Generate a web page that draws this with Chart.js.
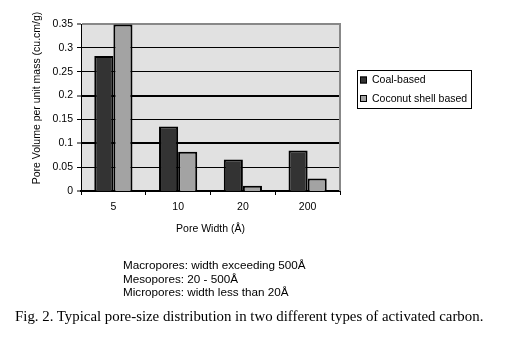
<!DOCTYPE html>
<html>
<head>
<meta charset="utf-8">
<script src="https://cdn.jsdelivr.net/npm/chart.js@4/dist/chart.umd.min.js"></script>
<style>
  body { margin: 0; background: #fff; }
  #wrap { position: relative; width: 526px; height: 341px; }
  .note { position: absolute; left: 123px; top: 258px; font: 11.7px "Liberation Sans", Arial, sans-serif; line-height: 13.5px; color: #000; }
  .caption { position: absolute; left: 15px; top: 308px; font: 14.85px "Liberation Serif", "Times New Roman", serif; color: #000; white-space: nowrap; }
</style>
</head>
<body>
<div id="wrap">
  <canvas id="pores" width="526" height="341"></canvas>
  <div class="note">Macropores: width exceeding 500Å<br>Mesopores: 20 - 500Å<br>Micropores: width less than 20Å</div>
  <div class="caption">Fig. 2. Typical pore-size distribution in two different types of activated carbon.</div>
</div>
<script>
// pore width categories (Å)
var poreWidths = ["5", "10", "20", "200"];
// pore volume per unit mass (cu.cm/g)
var coalBased = [0.283, 0.135, 0.066, 0.085];
var coconutBased = [0.349, 0.082, 0.011, 0.026];

var yTitle = 'Pore Volume per unit mass (cu.cm/g)';
var font10 = { family: "'Liberation Sans', Arial, sans-serif", size: 10.5 };

// plot background + gray right border, like the old spreadsheet look
var plotFrame = {
  id: 'plotFrame',
  beforeDraw: function (chart) {
    var a = chart.chartArea, c = chart.ctx;
    c.save();
    c.fillStyle = '#e1e1e1';
    c.fillRect(a.left, a.top, a.right - a.left, a.bottom - a.top);
    c.restore();
  },
  beforeDatasetsDraw: function (chart) {
    var a = chart.chartArea, c = chart.ctx;
    c.save();
    c.strokeStyle = '#888';
    c.lineWidth = 2;
    c.beginPath();
    c.moveTo(a.right, a.top - 1);
    c.lineTo(a.right, a.bottom);
    c.stroke();
    c.restore();
  },
  // y title sits a bit above the plot centre in the original
  afterDraw: function (chart) {
    var c = chart.ctx;
    c.save();
    c.translate(37.5, 98);
    c.rotate(-Math.PI / 2);
    c.font = "10.5px 'Liberation Sans', Arial, sans-serif";
    c.fillStyle = '#000';
    c.textAlign = 'center';
    c.textBaseline = 'middle';
    c.fillText(yTitle, 0, 0);
    c.restore();
  }
};

// boxed legend to the right of the plot
var boxLegend = {
  id: 'boxLegend',
  afterDraw: function (chart) {
    var c = chart.ctx;
    var x = 357, y = 70, w = 114, h = 38;
    c.save();
    c.fillStyle = '#fff';
    c.fillRect(x, y, w, h);
    c.strokeStyle = '#000';
    c.lineWidth = 1;
    c.strokeRect(x + 0.5, y + 0.5, w, h);
    c.font = "10.5px 'Liberation Sans', Arial, sans-serif";
    c.textBaseline = 'middle';
    chart.data.datasets.forEach(function (ds, i) {
      var cy = y + 10 + i * 18.5;
      c.fillStyle = ds.backgroundColor;
      c.fillRect(360, cy - 3.5, 7, 7);
      c.strokeStyle = '#000';
      c.strokeRect(360.5, cy - 3, 6, 6);
      c.fillStyle = '#000';
      c.fillText(ds.label, 372, cy + 0.5);
    });
    c.restore();
  }
};

new Chart(document.getElementById('pores').getContext('2d'), {
  type: 'bar',
  data: {
    labels: poreWidths,
    datasets: [
      { label: 'Coal-based', data: coalBased, backgroundColor: '#333333', borderColor: '#000', borderWidth: 2 },
      { label: 'Coconut shell based', data: coconutBased, backgroundColor: '#a3a3a3', borderColor: '#000', borderWidth: 2 }
    ]
  },
  options: {
    responsive: false,
    animation: false,
    layout: { padding: { left: 0, top: 24, right: 186, bottom: 100 } },
    datasets: { bar: { categoryPercentage: 0.59, barPercentage: 1 } },
    plugins: { legend: { display: false }, tooltip: { enabled: false } },
    scales: {
      x: {
        afterFit: function (s) { s.height = 50; },
        grid: { offset: true, drawOnChartArea: false, drawTicks: true, tickLength: 4, color: '#000' },
        border: { color: '#000', width: 2 },
        ticks: { color: '#000', font: font10, padding: 6 },
        title: { display: true, text: 'Pore Width (Å)', color: '#000', font: font10, padding: { top: 0, bottom: 6 } }
      },
      y: {
        min: 0,
        max: 0.35,
        afterFit: function (s) { s.width = 81; },
        grid: {
          drawTicks: true,
          tickLength: 4,
          color: function (ctx) { return ctx.index === 7 ? '#888' : '#000'; },
          lineWidth: function (ctx) {
            if (ctx.index === 0) return 0;
            if (ctx.index === 2 || ctx.index === 4 || ctx.index === 7) return 2;
            return 1;
          },
          tickColor: '#000',
          tickWidth: 1
        },
        border: { color: '#000', width: 1 },
        ticks: {
          stepSize: 0.05,
          color: '#000',
          font: font10,
          padding: 4,
          callback: function (v) { return String(+v.toFixed(2)); }
        },
        title: { display: false }
      }
    }
  },
  plugins: [plotFrame, boxLegend]
});
</script>
</body>
</html>
